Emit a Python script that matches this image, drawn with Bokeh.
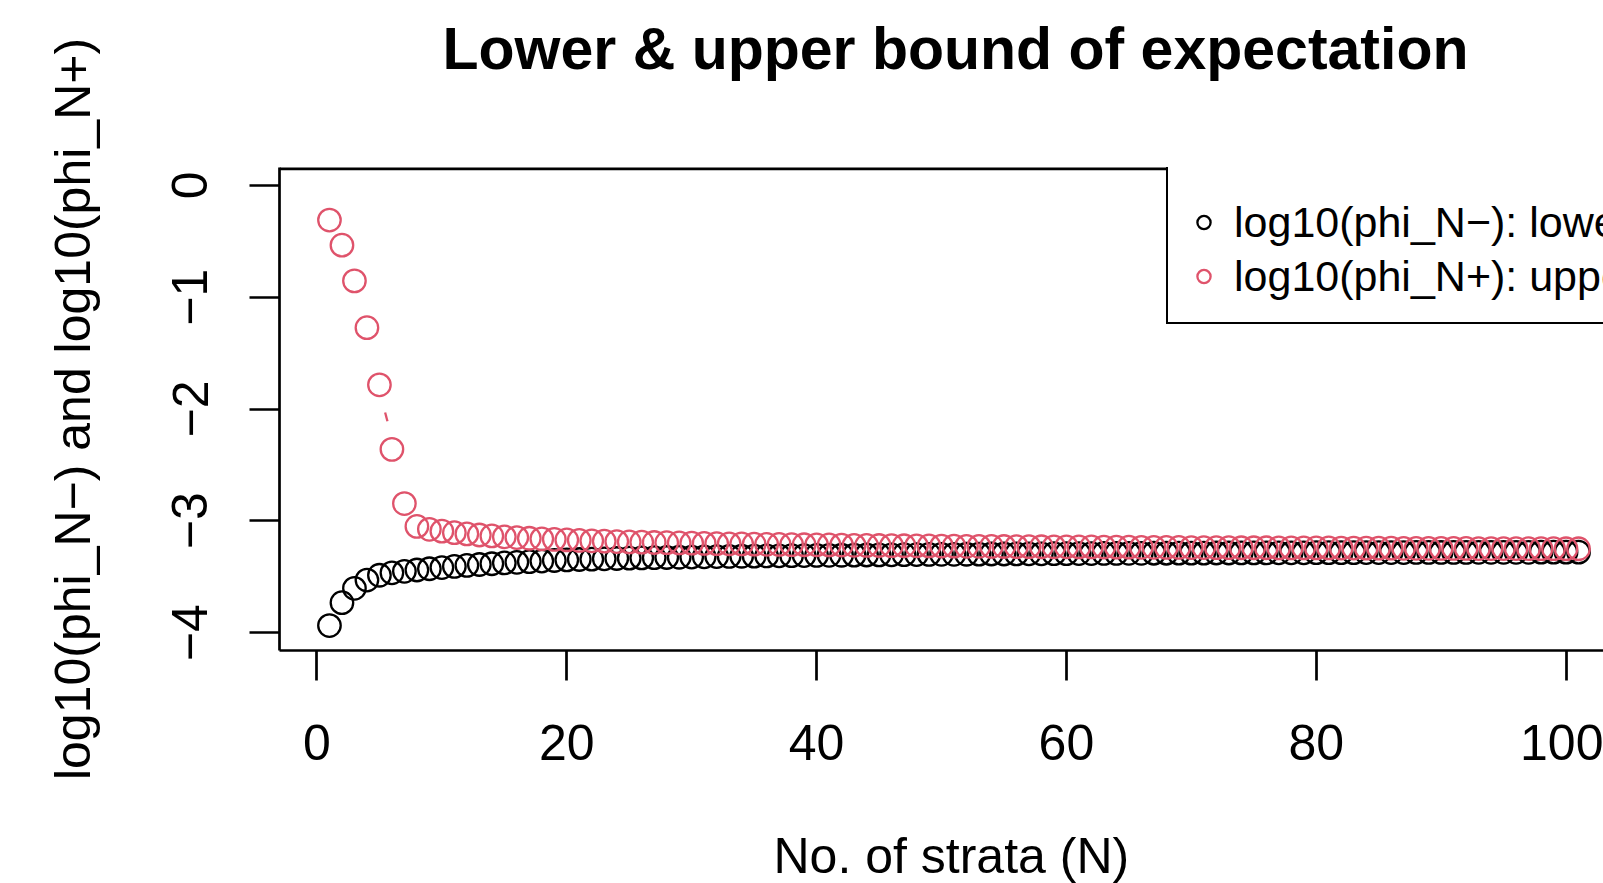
from bokeh.plotting import figure
from bokeh.models import FixedTicker, Legend, LegendItem, Span, Range1d, Title
from bokeh.embed import file_html
from bokeh.resources import INLINE

# ---------------- data ----------------
N = list(range(1, 102))

lower = [
    -3.937, -3.732, -3.604, -3.530, -3.487, -3.465, -3.452, -3.440, -3.429, -3.418,
    -3.408, -3.399, -3.391, -3.384, -3.377, -3.371, -3.365, -3.360, -3.355, -3.350,
    -3.346, -3.343, -3.340, -3.337, -3.334, -3.332, -3.330, -3.328, -3.326, -3.324,
    -3.322, -3.320, -3.319, -3.317, -3.316, -3.314, -3.313, -3.312, -3.311, -3.310,
    -3.309, -3.308, -3.307, -3.306, -3.305, -3.304, -3.303, -3.302, -3.301, -3.300,
    -3.300, -3.299, -3.298, -3.297, -3.297, -3.296, -3.295, -3.295, -3.294, -3.294,
    -3.293, -3.293, -3.292, -3.292, -3.291, -3.291, -3.290, -3.290, -3.289, -3.289,
    -3.289, -3.288, -3.288, -3.287, -3.287, -3.287, -3.286, -3.286, -3.286, -3.285,
    -3.285, -3.285, -3.285, -3.284, -3.284, -3.284, -3.284, -3.283, -3.283, -3.283,
    -3.283, -3.283, -3.282, -3.282, -3.282, -3.282, -3.282, -3.281, -3.281, -3.281,
    -3.281,
]

upper = [
    -0.310, -0.535, -0.854, -1.273, -1.784, -2.361, -2.846, -3.050, -3.076, -3.093,
    -3.106, -3.117, -3.127, -3.135, -3.143, -3.150, -3.156, -3.161, -3.166, -3.171,
    -3.175, -3.179, -3.182, -3.186, -3.189, -3.191, -3.194, -3.196, -3.198, -3.200,
    -3.202, -3.204, -3.206, -3.207, -3.209, -3.210, -3.211, -3.213, -3.214, -3.215,
    -3.216, -3.217, -3.219, -3.220, -3.221, -3.222, -3.223, -3.224, -3.225, -3.226,
    -3.227, -3.228, -3.228, -3.229, -3.230, -3.231, -3.231, -3.232, -3.233, -3.233,
    -3.234, -3.234, -3.235, -3.236, -3.236, -3.237, -3.237, -3.238, -3.238, -3.239,
    -3.239, -3.240, -3.240, -3.241, -3.241, -3.241, -3.242, -3.242, -3.243, -3.243,
    -3.243, -3.244, -3.244, -3.245, -3.245, -3.245, -3.246, -3.246, -3.246, -3.247,
    -3.247, -3.247, -3.248, -3.248, -3.248, -3.248, -3.249, -3.249, -3.249, -3.250,
    -3.250,
]

# small stray red stroke visible between N=5 and N=6
stray_x = [5.55]
stray_y = [-2.07]

x_ticks = [0, 20, 40, 60, 80, 100]
x_tick_labels = ["0", "20", "40", "60", "80", "100"]
y_ticks = [-4, -3, -2, -1, 0]
y_tick_labels = ["\u22124", "\u22123", "\u22122", "\u22121", "0"]

title_text = "Lower & upper bound of expectation"
x_label = "No. of strata (N)"
y_label = "log10(phi_N\u2212) and log10(phi_N+)"
legend_labels = ["log10(phi_N\u2212): lower bound", "log10(phi_N+): upper bound"]
colors = ["#000000", "#DF536B"]

# ---------------- figure ----------------
FONT = "Liberation Sans"
LW = 2.7
X_LIM = (-3, 103)
Y_LIM = (-4.16, 0.16)

p = figure(
    width=1603, height=883,
    output_backend="svg", toolbar_location=None,
    x_range=Range1d(*X_LIM), y_range=Range1d(*Y_LIM),
    min_border_left=279, min_border_right=0, min_border_top=167, min_border_bottom=233,
)
p.background_fill_color = "white"
p.border_fill_color = "white"
p.outline_line_color = None
p.xgrid.visible = False
p.ygrid.visible = False

for ax in (p.xaxis[0], p.yaxis[0]):
    ax.axis_line_width = LW
    ax.axis_line_color = "black"
    ax.major_tick_line_width = LW
    ax.major_tick_line_color = "black"
    ax.major_tick_out = 30
    ax.major_tick_in = 0
    ax.minor_tick_out = 0
    ax.minor_tick_in = 0
    ax.major_label_text_font = FONT
    ax.major_label_text_font_size = "50px"
    ax.major_label_text_color = "black"

p.xaxis.ticker = FixedTicker(ticks=x_ticks)
p.xaxis.major_label_overrides = dict(zip(x_ticks, x_tick_labels))
p.xaxis.major_label_standoff = 44

p.yaxis.ticker = FixedTicker(ticks=y_ticks)
p.yaxis.major_label_overrides = dict(zip(y_ticks, y_tick_labels))
p.yaxis.major_label_orientation = "vertical"
p.yaxis.major_label_standoff = 42
p.yaxis.axis_label = y_label
p.yaxis.axis_label_text_font = FONT
p.yaxis.axis_label_text_font_size = "50px"
p.yaxis.axis_label_text_font_style = "normal"
p.yaxis.axis_label_text_color = "black"
p.yaxis.axis_label_standoff = 69

# top edge of the plot box (half of the stroke falls outside the clipped frame)
p.add_layout(Span(location=Y_LIM[1], dimension="width", line_color="black",
                  line_alpha=1.0, line_width=2 * LW))

# ---- main title (above), lifted away from the frame by a blank spacer ----
p.add_layout(Title(text=" ", text_color="white", text_font_size="1px", standoff=83), "above")
p.add_layout(Title(text=title_text, text_font=FONT, text_font_size="59px",
                   text_font_style="bold", text_color="black",
                   align="left", offset=163, standoff=0, vertical_align="bottom"), "above")

# ---- x axis title (below the tick labels), again after a blank spacer ----
p.add_layout(Title(text=" ", text_color="white", text_font_size="1px", standoff=60), "below")
p.add_layout(Title(text=x_label, text_font=FONT, text_font_size="50px",
                   text_font_style="normal", text_color="black",
                   align="left", offset=494, standoff=0, vertical_align="bottom"), "below")

r_low = p.scatter(N, lower, marker="circle", size=22.5, fill_color=None,
                  line_color=colors[0], line_width=2.3)
r_up = p.scatter(N, upper, marker="circle", size=22.5, fill_color=None,
                 line_color=colors[1], line_width=2.3)
p.scatter(stray_x, stray_y, marker="dash", size=9, angle=1.83,
          line_color=colors[1], line_width=2.3)

legend = Legend(
    items=[LegendItem(label=legend_labels[0], renderers=[r_low]),
           LegendItem(label=legend_labels[1], renderers=[r_up])],
    location=(887, 326), margin=0, padding=19, spacing=0,
    title=" ", title_text_font_size="1px", title_standoff=9,
    glyph_width=33, glyph_height=54, label_height=54, label_standoff=14,
    label_text_font=FONT, label_text_font_size="43px", label_text_color="black",
    border_line_color="black", border_line_alpha=1.0, border_line_width=LW,
    background_fill_color="white", background_fill_alpha=1.0,
)
p.add_layout(legend)

open("out.html", "w").write(file_html(p, INLINE))
